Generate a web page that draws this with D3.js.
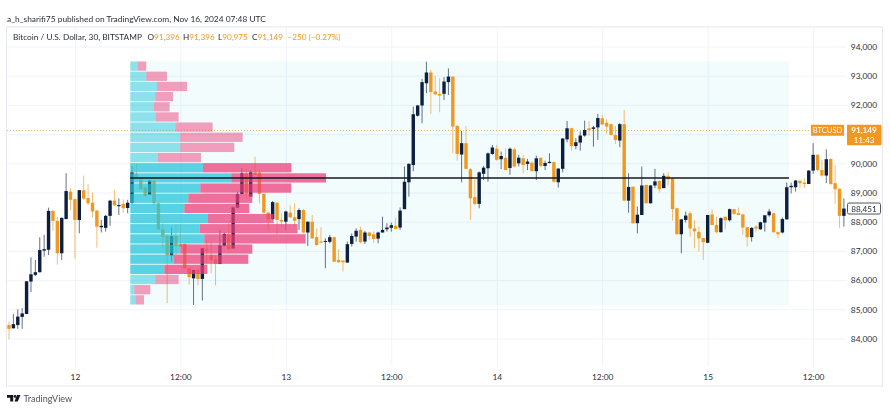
<!DOCTYPE html>
<html>
<head>
<meta charset="utf-8">
<script src="https://cdn.jsdelivr.net/npm/d3@7"></script>
<style>
  html, body { margin: 0; padding: 0; background: #fff; }
  svg { display: block; filter: blur(0.3px); }
  text { font-family: Lato, "Open Sans", sans-serif; font-size: 8.3px; fill: #2a2e39; }
  .axis path { display: none; }
  .axis line { stroke: #f0f3fa; }
</style>
</head>
<body>
<script>
const width = 890;
const height = 420;

// 30 minute bars, Nov 11 16:30 onwards
const opens = [
  84460,84350,84460,84740,84840,85950,86180,86270,87010,87040,
  88370,88030,86920,88090,89030,88770,88060,89080,88810,88650,
  88380,87810,87790,88200,88720,88530,88610,88470,88650,89640,
  89450,89170,88920,89410,88630,87740,87510,86840,87510,87240,
  87240,86410,86060,86350,86040,87060,86860,86710,86550,87170,
  87580,87080,88480,88950,89660,88860,89690,89690,88950,88310,
  88090,88650,88060,88000,88310,88150,88090,88400,87630,88000,
  87470,87320,87310,87310,87470,86690,86670,86600,87240,87490,
  87720,87320,87630,87570,87420,87630,87740,87790,87860,87800,
  88430,89350,89940,91630,91980,92740,93110,92460,92380,92380,
  92780,92970,91280,90300,90690,89800,88840,88610,89640,89830,
  90320,90500,90140,90190,89840,90480,90000,90170,89980,90020,
  89730,90190,89910,90010,90040,89350,89810,90820,91200,90590,
  90710,90950,91200,91180,91230,91540,91390,91340,90970,90780,
  91340,88720,89200,87950,88230,89260,88630,89240,89400,89150,
  89570,89480,88460,87570,88060,88290,87770,87650,87440,87280,
  88250,87890,87640,88170,88050,88430,88290,88250,87810,87470,
  87830,87740,87970,88220,88290,87640,87630,88080,89180,89180,
  89400,89340,89290,89750,90290,89770,89580,90150,89320,89130,
  88200
];
const closes = [
  84330,84490,84750,84860,85960,86200,86270,87030,87060,88370,
  88030,86920,88130,89050,88750,88060,89080,88790,88630,88350,
  87830,87860,88200,88720,88560,88570,88460,88650,89690,89490,
  89110,88880,89410,88630,87740,87490,86840,87510,87170,87150,
  86410,86100,86350,86040,87090,87010,86690,86550,87190,87580,
  87060,88490,88950,89660,88950,89690,89600,88950,88310,88080,
  88670,88060,88000,88350,88150,88030,88400,87630,88000,87430,
  87200,87280,87340,87470,86630,86610,86610,87230,87510,87690,
  87300,87630,87510,87410,87630,87720,87800,87880,87750,88380,
  89370,89980,91680,91980,92780,93110,92440,92360,92320,92800,
  92970,91260,90320,90690,89810,88800,88610,89690,89850,90340,
  90540,90120,90250,89770,90500,89890,90190,89940,90060,89730,
  90170,89910,90010,90050,89370,89820,90850,91200,90590,90720,
  90950,91140,91140,91230,91550,91330,91260,90970,90800,91340,
  88720,89190,87950,88240,89240,88630,89240,89380,89110,89570,
  89450,88430,87570,88080,88210,87770,87670,87430,87300,88230,
  87890,87640,88120,88050,88430,88270,88230,87800,87470,87790,
  87770,87980,88220,88350,87640,87570,88090,89180,89230,89410,
  89320,89290,89750,90290,89770,89580,90140,89290,89110,88200,
  88450
];
const highs = [
  84580,84840,85000,85040,85960,86780,86690,87470,87550,88480,
  88400,88170,88150,89660,89150,88800,89080,89580,89280,89000,
  88400,88060,88230,88750,89090,88800,88770,88750,89910,89980,
  89520,89230,89430,89430,88680,87950,87550,87810,87890,87910,
  87260,86410,86350,86410,87090,87380,87320,86860,87720,87630,
  87970,88520,89030,89830,89860,89770,90230,89770,88970,88350,
  88710,88670,88290,88380,88550,88630,88460,88430,88000,88230,
  87770,87810,87430,87550,87490,87060,86670,87320,87600,87770,
  87830,87690,87660,87660,87660,88170,87950,87970,88140,88490,
  89890,90000,91940,92000,92890,93480,93200,92990,92910,92950,
  93250,92990,91310,91110,91280,89830,89450,89720,89910,90370,
  90630,90630,90400,90510,90540,90540,90290,90290,90150,90060,
  90260,90190,90090,90340,90060,89820,90860,91450,91220,90860,
  91090,91460,91450,91280,91690,91660,91510,91370,91280,91370,
  91830,89660,89200,88520,89890,89260,89260,89810,89410,89660,
  89690,89500,88480,88080,88350,88350,88060,87830,87440,88230,
  88430,88170,88150,88170,88450,88430,88480,88250,87810,87810,
  87890,88000,88220,88440,88310,87660,88150,89340,89340,89430,
  89450,89490,89770,90690,90320,90120,90480,90170,89940,89130,
  88800
];
const lows = [
  83970,84340,84330,84330,84840,85590,86140,86260,86800,86860,
  87690,86530,86690,88090,88400,86740,87600,88750,88570,88150,
  87110,87630,87660,87860,88540,88230,88310,88290,88610,89430,
  89090,88860,88920,88570,87720,87090,85210,86630,86860,87150,
  86370,85850,85150,85820,85300,86520,86230,85820,86550,87150,
  87030,87080,88460,88920,88800,88860,89600,88630,88290,87740,
  88060,87550,87830,87720,88120,87830,87720,87600,87170,87410,
  87180,87260,86410,87260,86620,86600,86290,86600,87150,87320,
  87260,87240,87380,87280,87260,87630,87660,87660,87740,87720,
  88430,88860,89730,91600,91370,92400,91690,92340,91750,92170,
  92340,90340,90090,89350,89800,88060,88570,88460,89430,89370,
  90290,90090,89800,89770,89600,89860,89890,89660,89770,89720,
  89430,89860,89770,90000,89340,89170,89690,90720,90420,90480,
  90430,90910,90940,90570,90800,91300,91010,90950,90660,90550,
  88720,88310,87920,87600,88230,88630,88630,89150,89000,89150,
  89240,88040,87570,86920,87970,87490,87090,86980,86690,87260,
  87870,87600,87630,87740,88000,88230,88230,87550,87150,87320,
  87660,87720,87660,88170,87630,87430,87600,88080,88970,89030,
  89150,89150,89290,89640,89720,89540,89320,89260,88610,87790,
  87830
];

// volume profile rows, top to bottom (relative volume)
const upVolume = [23,48,80,75,70,77,135,150,150,83,218,303,210,174,162,233,208,222,150,130,102,75,12,17];
const downVolume = [25,62,90,53,48,68,112,187,162,129,265,284,273,192,195,197,294,304,216,224,129,70,48,24];
const valueAreaRows = [10, 20]; // first and last row inside the value area
const profileTop = 93500;
const profileStep = 348;
const profileStartBar = 27.6;
const profileEndBar = 177.5;
const pocRow = 11;

const priceTicks = [84000,85000,86000,87000,88000,89000,90000,92000,93000,94000];
const gridPrices = [84000,85000,86000,87000,88000,89000,90000,91000,92000,93000,94000];
const timeBars = [15,39,63,87,111,135,159,183];
const timeLabels = ['12','12:00','13','12:00','14','12:00','15','12:00'];

const legendNames = ['O', 'H', 'L', 'C', ''];
const legendValues = ['91,396', '91,396', '90,975', '91,149', '\u2212250 (\u22120.27%)'];

const lastPrice = 91149;
const currentPrice = 88451;

const upColor = '#0c1f3f';
const downColor = '#f0981f';

function init() {
  const svg = d3.select('body')
    .append('svg')
    .attr('width', width)
    .attr('height', height);

  const x = d3.scaleLinear().domain([0, 190]).range([9, 843.9]);
  const y = d3.scaleLinear().domain([84000, 94000]).range([338.5, 46.5]);
  const volume = d3.scaleLinear().domain([0, 587]).range([0, 195.7]);

  const bars = d3.range(opens.length).map(i => ({
    i, open: opens[i], close: closes[i], high: highs[i], low: lows[i]
  }));

  svg.append('rect')
    .attr('x', 6.5)
    .attr('y', 27)
    .attr('width', 876)
    .attr('height', 359)
    .attr('fill', '#fff')
    .attr('stroke', '#e6e8ee');

  svg.append('g')
    .call(addGrid)
    .call(addValueBox)
    .call(addLastLine)
    .call(addCandles)
    .call(addProfile)
    .call(addPoc);

  svg.call(addAxes).call(addLabels).call(addHeader).call(addLogo);

  function addGrid(selection) {
    selection.append('g')
      .classed('axis', true)
      .attr('transform', 'translate(0, 366.5)')
      .call(d3.axisBottom(x).tickValues(timeBars).tickSize(-339).tickFormat(''));

    selection.append('g')
      .classed('axis', true)
      .attr('transform', 'translate(846, 0)')
      .call(d3.axisLeft(y).tickValues(gridPrices).tickSize(839).tickFormat(''));
  }

  function addAxes(selection) {
    const gx = selection.append('g')
      .attr('transform', 'translate(0, 367)')
      .call(d3.axisBottom(x).tickValues(timeBars).tickSize(0).tickPadding(7)
        .tickFormat((d, i) => timeLabels[i]));
    gx.select('.domain').remove();
    gx.selectAll('text').style('font-size', '8.4px').style('font-family', 'Lato');

    const gy = selection.append('g')
      .attr('transform', 'translate(877, 0)')
      .call(d3.axisRight(y).tickValues(priceTicks).tickSize(0).tickPadding(0)
        .tickFormat(d3.format(',')));
    gy.select('.domain').remove();
    gy.selectAll('text').attr('text-anchor', 'end').style('font-size', '8.4px').style('font-family', 'Lato');
  }

  function addValueBox(selection) {
    selection.append('rect')
      .attr('x', x(profileStartBar))
      .attr('y', y(profileTop))
      .attr('width', x(profileEndBar) - x(profileStartBar))
      .attr('height', y(profileTop - profileStep * upVolume.length) - y(profileTop))
      .attr('fill', 'rgba(0, 188, 212, 0.05)');
  }

  function addLastLine(selection) {
    const ly = Math.round(y(lastPrice)) + 0.5;
    selection.append('line')
      .attr('x1', 7)
      .attr('x2', 811)
      .attr('y1', ly)
      .attr('y2', ly)
      .attr('stroke', downColor)
      .attr('stroke-opacity', 0.65)
      .attr('stroke-dasharray', '1 2');
  }

  function addCandles(selection) {
    const g = selection.selectAll('g.candle')
      .data(bars)
      .join('g')
      .classed('candle', true);

    g.append('line')
      .attr('x1', d => x(d.i))
      .attr('x2', d => x(d.i))
      .attr('y1', d => y(d.high))
      .attr('y2', d => y(d.low))
      .attr('stroke', d => d.close >= d.open ? upColor : downColor)
      .attr('stroke-width', 0.9)
      .attr('stroke-opacity', 0.7);

    g.append('rect')
      .attr('x', d => x(d.i) - 1.7)
      .attr('width', 3.4)
      .attr('y', d => y(Math.max(d.open, d.close)))
      .attr('height', d => Math.max(1, Math.abs(y(d.open) - y(d.close))))
      .attr('fill', d => d.close >= d.open ? upColor : downColor);
  }

  function addProfile(selection) {
    const rows = upVolume.map((up, i) => ({
      i,
      up,
      down: downVolume[i],
      alpha: i >= valueAreaRows[0] && i <= valueAreaRows[1] ? 0.75 : 0.5
    }));
    const left = x(profileStartBar);
    const rowY = i => y(profileTop - profileStep * i) + 0.4;
    const rowH = y(profileTop - profileStep) - y(profileTop) - 0.9;

    selection.selectAll('rect.up')
      .data(rows)
      .join('rect')
      .classed('up', true)
      .attr('x', left)
      .attr('y', d => rowY(d.i))
      .attr('width', d => volume(d.up))
      .attr('height', rowH)
      .attr('fill', d => `rgba(38, 198, 218, ${d.alpha})`);

    selection.selectAll('rect.down')
      .data(rows)
      .join('rect')
      .classed('down', true)
      .attr('x', d => left + volume(d.up))
      .attr('y', d => rowY(d.i))
      .attr('width', d => volume(d.down))
      .attr('height', rowH)
      .attr('fill', d => `rgba(236, 64, 122, ${d.alpha})`);
  }

  function addPoc(selection) {
    const py = y(profileTop - profileStep * (pocRow + 0.5));
    selection.append('line')
      .attr('x1', x(profileStartBar))
      .attr('x2', x(profileEndBar))
      .attr('y1', py)
      .attr('y2', py)
      .attr('stroke', '#131722')
      .attr('stroke-width', 1.5);
  }

  function addLabels(selection) {
    const ly = y(lastPrice);

    selection.append('rect')
      .attr('x', 811).attr('y', ly - 5).attr('width', 33).attr('height', 11)
      .attr('fill', downColor);
    selection.append('text')
      .attr('x', 827.5).attr('y', ly + 3.4).attr('text-anchor', 'middle')
      .style('fill', '#fff').style('font-size', '7.6px')
      .text('BTCUSD');

    selection.append('rect')
      .attr('x', 847).attr('y', ly - 5).attr('width', 34.5).attr('height', 20.5)
      .attr('rx', 1)
      .attr('fill', downColor);
    selection.append('text')
      .attr('x', 864).attr('y', ly + 3).attr('text-anchor', 'middle')
      .style('fill', '#fff').style('font-weight', 700).style('font-size', '8.2px')
      .text(d3.format(',')(lastPrice));
    selection.append('text')
      .attr('x', 864).attr('y', ly + 13).attr('text-anchor', 'middle')
      .style('fill', '#fff').style('font-size', '8.2px')
      .text('11:43');

    const cy = y(currentPrice);
    selection.append('rect')
      .attr('x', 847.5).attr('y', cy - 5.5).attr('width', 33).attr('height', 11).attr('rx', 1.5)
      .attr('fill', '#fff')
      .attr('stroke', '#50535e');
    selection.append('text')
      .attr('x', 864).attr('y', cy + 3).attr('text-anchor', 'middle')
      .style('font-size', '8.2px')
      .text(d3.format(',')(currentPrice));
  }

  function addHeader(selection) {
    selection.append('text')
      .attr('x', 7)
      .attr('y', 22)
      .style('font-size', '8.4px')
      .text('a_h_sharifi75 published on TradingView.com, Nov 16, 2024 07:48 UTC');

    selection.append('text')
      .attr('x', 13)
      .attr('y', 40)
      .text('Bitcoin / U.S. Dollar, 30, BITSTAMP');

    const legendX = d3.scaleOrdinal().domain(d3.range(5)).range([147.5, 183, 218, 252, 287.5]);
    const legend = selection.selectAll('text.legend')
      .data(legendValues)
      .join('text')
      .classed('legend', true)
      .attr('x', (d, i) => legendX(i))
      .attr('y', 40)
      .style('font-size', '8.2px');
    legend.append('tspan').text((d, i) => legendNames[i]);
    legend.append('tspan').style('fill', downColor).text(d => d);
  }

  function addLogo(selection) {
    selection.append('path')
      .attr('d', 'M7 395h6.2v6.4h-3v-3.6h-3.2z M17 395h3.4l-2.6 6.4h-3.3z')
      .attr('fill', '#131722');
    selection.append('circle')
      .attr('cx', 15).attr('cy', 396.4).attr('r', 1.3)
      .attr('fill', '#131722');
    selection.append('text')
      .attr('x', 23.5)
      .attr('y', 402)
      .style('font-size', '9px')
      .style('fill', '#50535e')
      .text('TradingView');
  }
}

init();
</script>
</body>
</html>
